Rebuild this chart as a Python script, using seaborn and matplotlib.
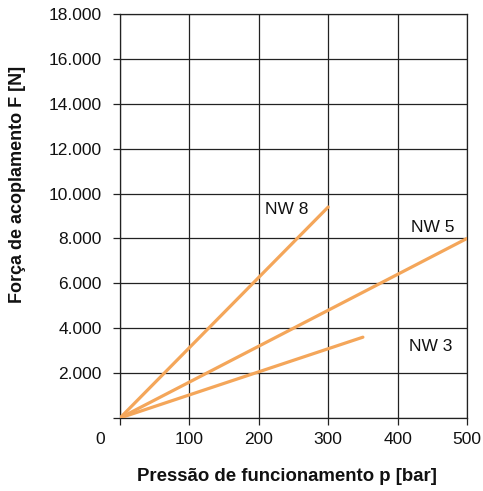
import matplotlib
matplotlib.use("Agg")
import matplotlib.pyplot as plt
import matplotlib.transforms as mtransforms
import seaborn as sns
import pandas as pd

# Coupling force vs. operating pressure (straight lines from origin)
series_names = ["NW 8", "NW 5", "NW 3"]
pressure_start = [0, 0, 0]
pressure_end = [300, 500, 350]
force_start = [0, 0, 0]
force_end = [9400, 8000, 3600]

label_x = [240, 451, 447]
label_y = [9270, 8465, 3163]

x_ticks = [0, 100, 200, 300, 400, 500]
y_ticks = [0, 2000, 4000, 6000, 8000, 10000, 12000, 14000, 16000, 18000]
y_tick_labels = ["", "2.000", "4.000", "6.000", "8.000", "10.000",
                 "12.000", "14.000", "16.000", "18.000"]

rows = []
for name, p0, p1, f0, f1 in zip(series_names, pressure_start, pressure_end, force_start, force_end):
    rows.append({"serie": name, "p": p0, "F": f0})
    rows.append({"serie": name, "p": p1, "F": f1})
df = pd.DataFrame(rows)

sns.set_theme(style="white")
plt.rcParams["font.family"] = ["Liberation Sans", "DejaVu Sans"]

fig = plt.figure(figsize=(4.83, 4.91), dpi=100)
ax = fig.add_axes([0.2484, 0.1487, 0.9669 - 0.2484, 0.9715 - 0.1487])

orange = "#F4A65A"
sns.lineplot(data=df, x="p", y="F", hue="serie", palette=[orange] * 3,
             linewidth=2.3, legend=False, ax=ax, zorder=3)

for name, lx, ly in zip(series_names, label_x, label_y):
    ax.text(lx, ly, name, ha="center", va="center", fontsize=12.5, color="#111111")

ax.set_xlim(0, 500)
ax.set_ylim(0, 18000)
ax.set_xticks(x_ticks)
ax.set_xticklabels([str(v) for v in x_ticks])
ax.set_yticks(y_ticks)
ax.set_yticklabels(y_tick_labels)

ax.grid(True, color="#222222", linewidth=0.9)
ax.set_axisbelow(True)
for s in ax.spines.values():
    s.set_color("#222222")
    s.set_linewidth(0.9)

ax.tick_params(axis="both", which="both", direction="out", length=5, width=0.9,
               color="#222222", labelsize=12.5, labelcolor="#111111",
               bottom=True, left=True)
ax.tick_params(axis="y", pad=8)
ax.tick_params(axis="x", pad=5)

# shift the "0" on the x axis to the left of the origin
first = ax.get_xticklabels()[0]
first.set_transform(first.get_transform() + mtransforms.ScaledTranslation(-20 / 100, 0, fig.dpi_scale_trans))

ax.set_xlabel("Pressão de funcionamento p [bar]", fontsize=13.4, fontweight="bold",
              color="#111111", va="top")
ax.set_ylabel("Força de acoplamento F [N]", fontsize=13, fontweight="bold",
              color="#111111")
ax.xaxis.set_label_coords(0.48, -0.124)
ax.yaxis.set_label_coords(-0.271, 0.579)

fig.savefig("out.png", dpi=100)
